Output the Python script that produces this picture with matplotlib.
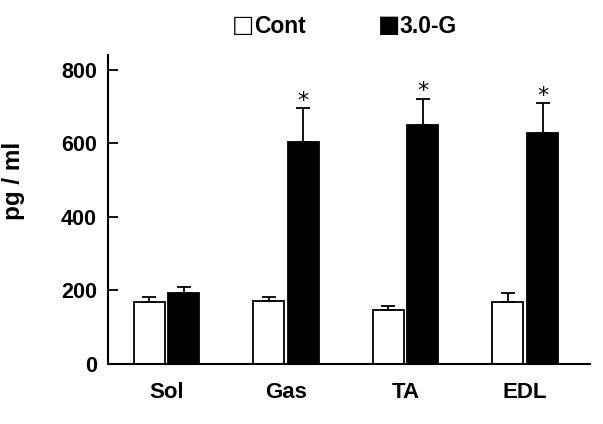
import numpy as np
import matplotlib
matplotlib.use("Agg")
from matplotlib import pyplot as plt

plt.rcParams['font.family'] = ['Liberation Sans', 'DejaVu Sans']

muscles = ['Sol', 'Gas', 'TA', 'EDL']
cont = [168, 170, 147, 168]
cont_err = [14, 12, 11, 25]
g30 = [192, 603, 650, 628]
g30_err = [17, 92, 72, 82]
signif = [False, True, True, True]

fig = plt.figure(figsize=(6.03, 4.24), dpi=100)
ax = fig.add_axes([0.179, 0.1415, 0.799, 0.7285])

x = np.arange(len(muscles))
w = 0.26
off = 0.145
ekw = dict(ecolor='black', elinewidth=1.3, capsize=5, capthick=1.3)
ax.bar(x - off, cont, w, color='white', edgecolor='black', linewidth=1.3,
       yerr=[np.zeros(4), cont_err], error_kw=ekw)
ax.bar(x + off, g30, w, color='black', edgecolor='black', linewidth=1.3,
       yerr=[np.zeros(4), g30_err], error_kw=ekw)

# significance stars
for i, s in enumerate(signif):
    if s:
        ax.text(x[i] + off, g30[i] + g30_err[i] + 3, '*', ha='center', va='baseline',
                fontsize=16, family='DejaVu Sans')

ax.set_xlim(-0.49, 3.54)
ax.set_ylim(0, 840)
ax.set_yticks([0, 200, 400, 600, 800])
ax.set_xticks(x)
ax.set_xticklabels(muscles, fontsize=16, fontweight='bold')
ax.tick_params(axis='x', length=0, pad=13)
ax.tick_params(axis='y', direction='in', length=7, width=1.3, labelsize=15.5, pad=8)
for lab in ax.get_yticklabels():
    lab.set_fontweight('bold')
for sp in ['top', 'right']:
    ax.spines[sp].set_visible(False)
for sp in ['left', 'bottom']:
    ax.spines[sp].set_linewidth(1.5)

fig.text(0.022, 0.573, 'pg / ml', rotation=90, ha='center', va='center',
         fontsize=17.5, fontweight='bold')

# legend at top
fig.text(0.385, 0.94, '\u25a1', ha='left', va='center', fontsize=17, family='DejaVu Sans')
fig.text(0.422, 0.937, 'Cont', ha='left', va='center', fontsize=16.5, fontweight='bold')
fig.text(0.626, 0.94, '\u25a0', ha='left', va='center', fontsize=17, family='DejaVu Sans')
fig.text(0.662, 0.937, '3.0-G', ha='left', va='center', fontsize=16.5, fontweight='bold')

fig.savefig('out.png', dpi=100)
